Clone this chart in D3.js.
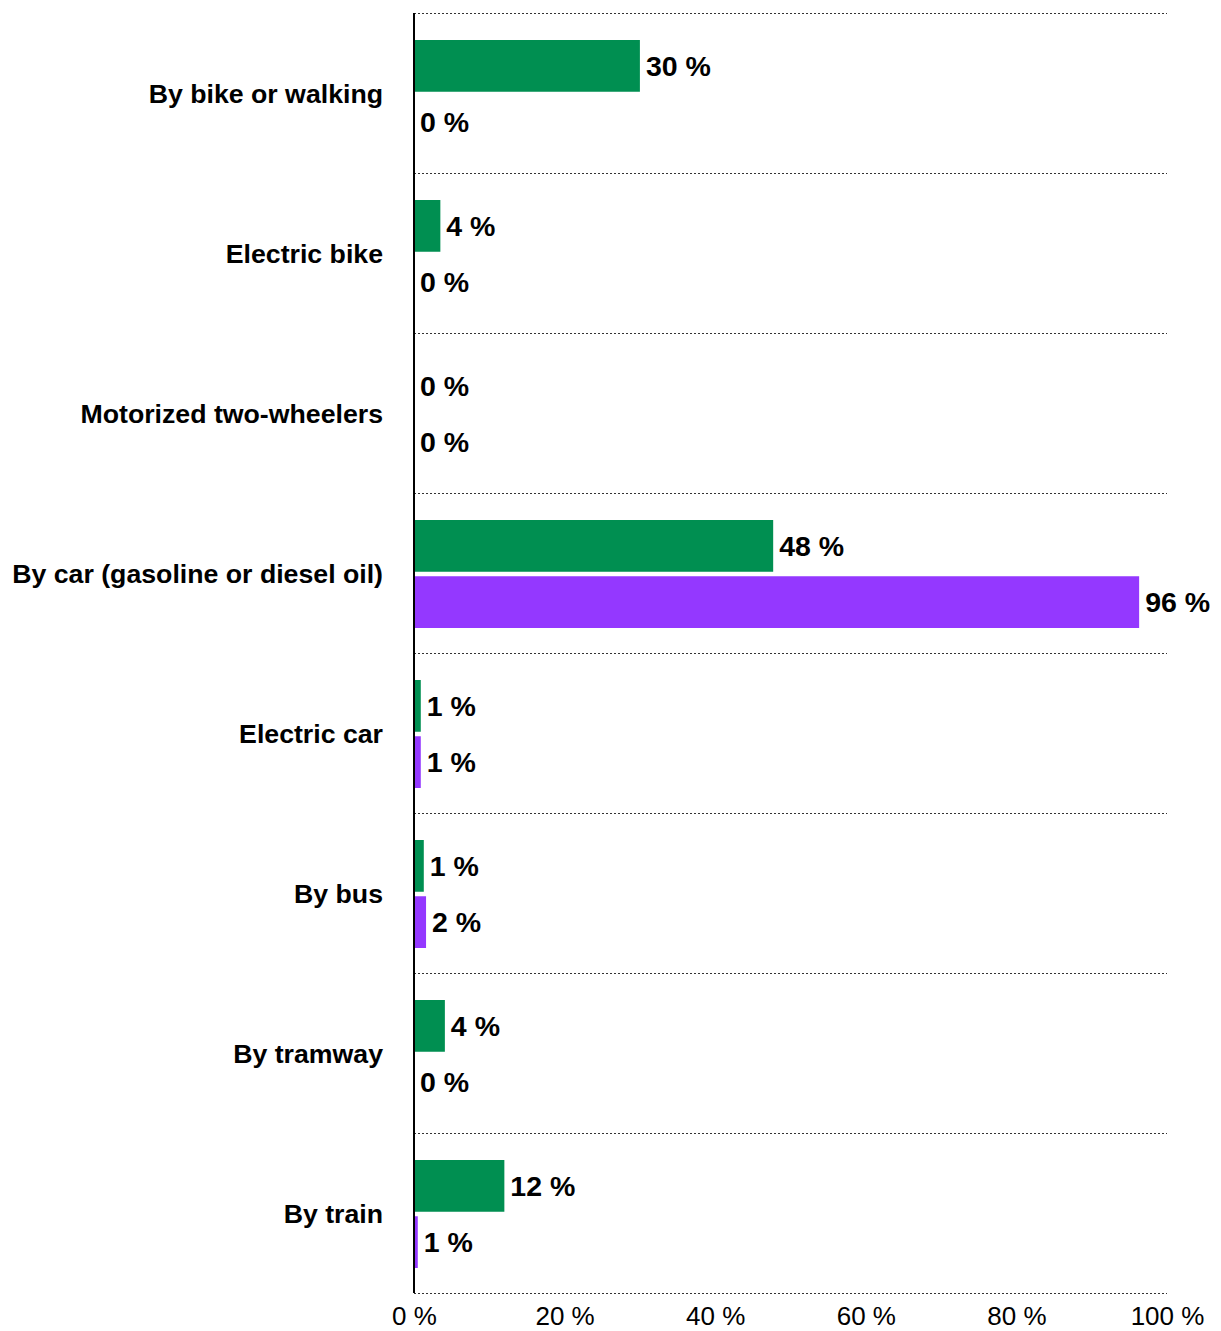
<!DOCTYPE html>
<html>
<head>
<meta charset="utf-8">
<script src="https://cdn.jsdelivr.net/npm/d3@7"></script>
<style>
  body { margin: 0; background: #fff; }
  svg { display: block; font-family: "Liberation Sans", Arial, sans-serif; }
</style>
</head>
<body>
<div id="chart"></div>
<script>
const categories = [
  "By bike or walking",
  "Electric bike",
  "Motorized two-wheelers",
  "By car (gasoline or diesel oil)",
  "Electric car",
  "By bus",
  "By tramway",
  "By train",
];
const seriesNames = ["green", "purple"];
const greenValues = [30, 3.5, 0, 47.7, 0.9, 1.3, 4.1, 12];
const purpleValues = [0, 0, 0, 96.3, 0.9, 1.6, 0, 0.5];
const xTicks = [0, 20, 40, 60, 80, 100];

const colors = { green: "#008f51", purple: "#9438ff" };

const width = 1221;
const height = 1331;
const margin = { top: 13, right: 54, bottom: 38, left: 414 };

const data = categories.map((c, i) => ({
  category: c,
  values: [
    { key: "green", value: greenValues[i] },
    { key: "purple", value: purpleValues[i] },
  ],
}));

const x = d3.scaleLinear().domain([0, 100]).range([margin.left, width - margin.right]);
const y0 = d3.scaleBand().domain(categories).range([margin.top, height - margin.bottom]);
const y1 = d3.scaleBand().domain(seriesNames).range([27, 135]).paddingInner(0.08);

const svg = d3.select("#chart")
  .append("svg")
  .attr("width", width)
  .attr("height", height);

// dotted separators between categories
svg.append("g")
  .selectAll("line")
  .data(d3.range(categories.length + 1))
  .join("line")
  .attr("x1", margin.left)
  .attr("x2", width - margin.right)
  .attr("y1", (d) => margin.top + d * y0.step() + 0.5)
  .attr("y2", (d) => margin.top + d * y0.step() + 0.5)
  .attr("stroke", "#333")
  .attr("stroke-width", 1)
  .attr("stroke-dasharray", "2,2");

const group = svg.append("g")
  .selectAll("g")
  .data(data)
  .join("g")
  .attr("transform", (d) => `translate(0,${y0(d.category)})`);

group.selectAll("rect")
  .data((d) => d.values)
  .join("rect")
  .attr("x", x(0))
  .attr("y", (d) => y1(d.key))
  .attr("width", (d) => x(d.value) - x(0))
  .attr("height", y1.bandwidth())
  .attr("fill", (d) => colors[d.key]);

group.selectAll("text.value")
  .data((d) => d.values)
  .join("text")
  .attr("class", "value")
  .attr("x", (d) => x(d.value) + 6)
  .attr("y", (d) => y1(d.key) + y1.bandwidth() / 2)
  .attr("dy", "0.36em")
  .attr("font-size", 28.5)
  .attr("font-weight", "bold")
  .attr("fill", "#000")
  .text((d) => `${Math.round(d.value)} %`);

group.append("text")
  .attr("class", "category")
  .attr("x", margin.left - 31)
  .attr("y", y0.bandwidth() / 2)
  .attr("dy", "0.36em")
  .attr("text-anchor", "end")
  .attr("font-size", 26.7)
  .attr("font-weight", "bold")
  .attr("fill", "#000")
  .text((d) => d.category);

// x axis labels (no tick marks)
const xAxisG = svg.append("g")
  .attr("transform", `translate(0,${height - margin.bottom})`)
  .call(d3.axisBottom(x).tickValues(xTicks).tickSize(0).tickPadding(0).tickFormat((d) => `${d} %`));
xAxisG.select(".domain").remove();
xAxisG.selectAll("text")
  .attr("font-size", 26)
  .attr("font-family", "Liberation Sans, Arial, sans-serif")
  .attr("fill", "#000")
  .attr("y", 23)
  .attr("dy", "0.36em");

// vertical axis line
svg.append("line")
  .attr("x1", x(0))
  .attr("x2", x(0))
  .attr("y1", margin.top)
  .attr("y2", height - margin.bottom)
  .attr("stroke", "#000")
  .attr("stroke-width", 2);
</script>
</body>
</html>
